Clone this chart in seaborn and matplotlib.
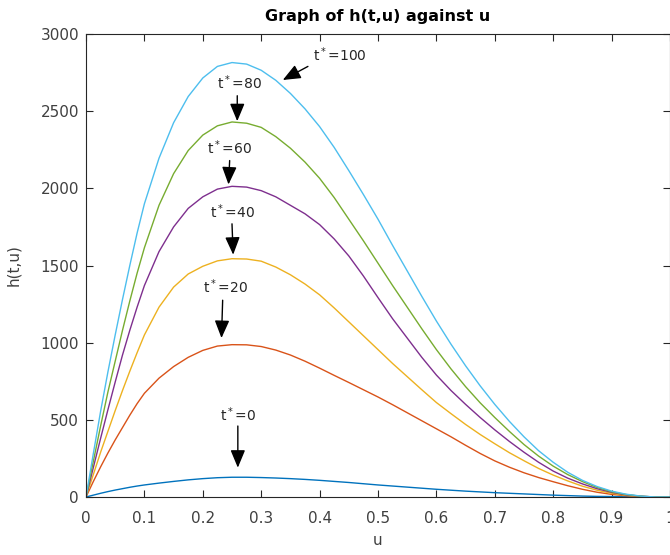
# Graph of h(t,u) against u  (MATLAB-style recreation)
import numpy as np
import pandas as pd
import matplotlib
matplotlib.use("Agg")
import matplotlib.pyplot as plt
import seaborn as sns

# ---- data ----------------------------------------------------------------
u_vals = [0, 0.0125, 0.025, 0.0375, 0.05, 0.0625, 0.075, 0.0875, 0.1,
          0.125, 0.15, 0.175, 0.2, 0.225, 0.25, 0.275, 0.3, 0.325, 0.35,
          0.375, 0.4, 0.425, 0.45, 0.475, 0.5, 0.525, 0.55, 0.575, 0.6,
          0.625, 0.65, 0.675, 0.7, 0.725, 0.75, 0.775, 0.8, 0.825, 0.85,
          0.875, 0.9, 0.925, 0.95, 0.975, 1.0]

h_t0 = [0, 12, 24, 35, 45, 54, 63, 71, 78,
        90, 101, 111, 119, 125, 128, 128, 126, 123, 119, 114, 108, 101, 94,
        86, 78, 71, 64, 57, 50, 44, 38, 33, 28, 24, 20, 16, 12, 9, 6, 4, 3,
        2, 1, 0, 0]
h_t20 = [0, 100, 195, 285, 370, 450, 530, 605, 672,
         770, 845, 905, 950, 978, 987, 986, 975, 952, 920, 880, 835, 788, 742,
         695, 648, 598, 546, 494, 442, 390, 335, 282, 234, 193, 157, 126, 99,
         73, 50, 31, 17, 8, 3, 0, 0]
h_t40 = [0, 145, 290, 425, 560, 690, 815, 935, 1050,
         1230, 1360, 1445, 1495, 1530, 1544, 1542, 1528, 1490, 1440, 1380,
         1310, 1225, 1135, 1045, 955, 865, 780, 695, 612, 540, 470, 405, 345,
         287, 235, 185, 142, 104, 70, 44, 24, 11, 4, 0, 0]
h_t60 = [0, 190, 380, 565, 745, 920, 1080, 1230, 1370,
         1590, 1750, 1870, 1945, 1995, 2013, 2008, 1985, 1945, 1890, 1835,
         1765, 1672, 1562, 1432, 1292, 1155, 1030, 905, 790, 690, 600, 515,
         435, 360, 290, 225, 168, 122, 85, 54, 30, 14, 5, 0, 0]
h_t80 = [0, 230, 460, 680, 880, 1080, 1270, 1450, 1615,
         1890, 2095, 2245, 2345, 2405, 2430, 2422, 2395, 2335, 2260, 2170,
         2065, 1940, 1800, 1660, 1515, 1370, 1230, 1090, 955, 830, 715, 610,
         515, 425, 340, 265, 200, 145, 100, 62, 34, 16, 5, 0, 0]
h_t100 = [0, 280, 555, 810, 1050, 1280, 1500, 1710, 1900,
          2195, 2425, 2595, 2715, 2790, 2815, 2805, 2765, 2700, 2615, 2515,
          2400, 2265, 2115, 1960, 1800, 1630, 1465, 1300, 1140, 990, 850, 720,
          600, 490, 390, 300, 225, 160, 108, 68, 38, 18, 6, 0, 0]

t_labels = ["0", "20", "40", "60", "80", "100"]

# annotation text (u, h) and arrow tail/head (u, h)
label_pos = [(0.260, 531), (0.239, 1361), (0.251, 1847),
             (0.246, 2261), (0.263, 2683), (0.434, 2864)]
arrow_tail = [(0.260, 460), (0.234, 1275), (0.250, 1770),
              (0.246, 2180), (0.259, 2600), (0.380, 2790)]
arrow_head = [(0.260, 190), (0.232, 1030), (0.252, 1570),
              (0.244, 2025), (0.259, 2435), (0.337, 2702)]

# MATLAB default colour order
matlab_colors = ["#0072BD", "#D95319", "#EDB120", "#7E2F8E", "#77AC30", "#4DBEEE"]

# ---- long table for seaborn ------------------------------------------------
series = [h_t0, h_t20, h_t40, h_t60, h_t80, h_t100]
df = pd.concat(
    [pd.DataFrame({"u": u_vals, "h": s, "t": t}) for s, t in zip(series, t_labels)],
    ignore_index=True,
)

sns.set_style("white")
plt.rcParams["font.family"] = ["DejaVu Sans"]
plt.rcParams["mathtext.default"] = "regular"

fig = plt.figure(figsize=(6.7, 5.55), dpi=100)
ax = fig.add_axes([86 / 670, 58 / 555, 584 / 670, 463 / 555])

sns.lineplot(data=df, x="u", y="h", hue="t", palette=matlab_colors,
             legend=False, linewidth=1.0, ax=ax, sort=True)

ax.set_xlim(0, 1)
ax.set_ylim(0, 3000)
ax.set_xticks(np.arange(0, 1.01, 0.1))
ax.set_xticklabels(["0", "0.1", "0.2", "0.3", "0.4", "0.5",
                    "0.6", "0.7", "0.8", "0.9", "1"])
ax.set_yticks(np.arange(0, 3001, 500))

dark = "#262626"
for sp in ax.spines.values():
    sp.set_color(dark)
    sp.set_linewidth(0.8)
    sp.set_visible(True)
ax.tick_params(direction="in", length=5, width=0.8, color=dark,
               labelcolor="#404040", labelsize=11,
               top=True, right=True, bottom=True, left=True)
ax.tick_params(axis="x", pad=10)
ax.tick_params(axis="y", pad=5)

ax.set_title("Graph of h(t,u) against u", fontsize=11.5, fontweight="bold",
             color="black", pad=9)
ax.set_xlabel("u", fontsize=11, color="#404040", labelpad=5)
ax.set_ylabel("h(t,u)", fontsize=11, color="#404040", labelpad=14)

for t, (lx, ly), tail, head in zip(t_labels, label_pos, arrow_tail, arrow_head):
    ax.text(lx, ly, "t$^*$=" + t, ha="center", va="center",
            fontsize=10, color="#262626")
    ax.annotate("", xy=head, xytext=tail,
                arrowprops=dict(arrowstyle="-|>,head_length=0.6,head_width=0.25",
                                color="black", lw=1.0, mutation_scale=18,
                                shrinkA=0, shrinkB=0))

fig.savefig("out.png", dpi=100)
